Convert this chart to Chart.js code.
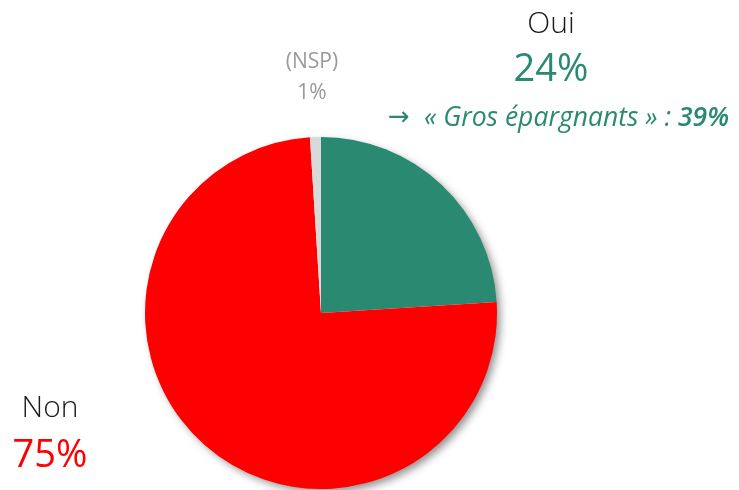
<!DOCTYPE html>
<html>
<head>
<meta charset="utf-8">
<script src="https://cdn.jsdelivr.net/npm/chart.js@4"></script>
<style>
  html, body { margin: 0; padding: 0; background: #fff; }
  #wrap { width: 739px; height: 490px; position: relative; }
</style>
</head>
<body>
<div id="wrap"><canvas id="myChart"></canvas></div>
<script>
const labels = ['Oui', 'Non', '(NSP)'];
const values = [24, 75, 1];
const colors = ['#2a8a71', '#ff0000', '#d9d9d9'];
const grosLabel = '« Gros épargnants » : ';
const grosValue = 39;

const FONT = '"Open Sans", sans-serif';

// ombre sous le camembert
const shadowPlugin = {
    id: 'pieShadow',
    beforeDatasetsDraw(chart) {
        const arc = chart.getDatasetMeta(0).data[0];
        if (!arc) return;
        const c = chart.ctx;
        c.save();
        c.shadowColor = 'rgba(0,0,0,0.45)';
        c.shadowBlur = 8;
        c.shadowOffsetX = 4;
        c.shadowOffsetY = 4;
        c.fillStyle = '#fff';
        c.beginPath();
        c.arc(arc.x, arc.y, arc.outerRadius - 1, 0, Math.PI * 2);
        c.fill();
        c.restore();
    }
};

// étiquettes
const labelPlugin = {
    id: 'pieLabels',
    afterDraw(chart) {
        const c = chart.ctx;
        c.save();
        c.textAlign = 'center';
        c.textBaseline = 'middle';

        c.fillStyle = '#1a1a1a';
        c.font = '300 30px ' + FONT;
        c.fillText(labels[0], 551, 24);
        c.fillStyle = colors[0];
        c.font = '400 38px ' + FONT;
        c.fillText(values[0] + '%', 551, 70);

        c.fillStyle = '#1a1a1a';
        c.font = '300 30px ' + FONT;
        c.fillText(labels[1], 50, 408);
        c.fillStyle = colors[1];
        c.font = '400 38px ' + FONT;
        c.fillText(values[1] + '%', 50, 456);

        c.fillStyle = '#9a9a9a';
        c.font = '400 21px ' + FONT;
        c.fillText(labels[2], 312, 62);
        c.fillText(values[2] + '%', 312, 93);

        // → « Gros épargnants » : 39%
        c.textAlign = 'left';
        c.fillStyle = colors[0];
        c.font = '400 26px "DejaVu Sans", sans-serif';
        c.fillText('\u2192', 388, 118);
        const fText = 'italic 400 26.5px ' + FONT;
        const fBold = 'italic 600 26.5px ' + FONT;
        let x = 424;
        c.font = fText; c.fillText(grosLabel, x, 118);
        x += c.measureText(grosLabel).width;
        c.font = fBold; c.fillText(grosValue + '%', x, 118);
        c.restore();
    }
};

new Chart(document.getElementById('myChart'), {
    type: 'pie',
    data: {
        labels: labels,
        datasets: [{
            data: values,
            backgroundColor: colors,
            borderWidth: 0
        }]
    },
    options: {
        responsive: true,
        maintainAspectRatio: false,
        animation: false,
        layout: { padding: { left: 145, right: 242, top: 137, bottom: 1 } },
        plugins: {
            legend: { display: false },
            tooltip: { enabled: false }
        }
    },
    plugins: [shadowPlugin, labelPlugin]
});
</script>
</body>
</html>
